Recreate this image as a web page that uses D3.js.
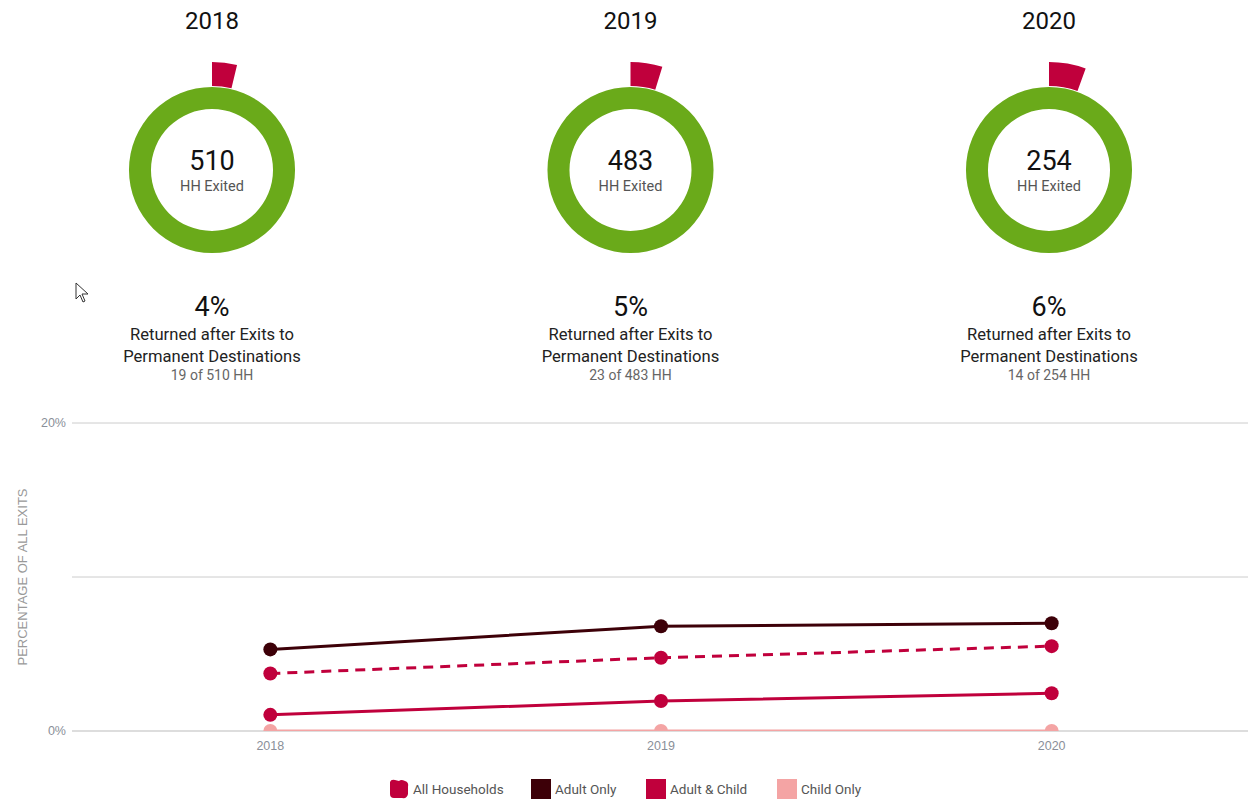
<!DOCTYPE html>
<html><head><meta charset="utf-8">
<script src="https://cdn.jsdelivr.net/npm/d3@7"></script>
<style>
body{margin:0;background:#fff;font-family:Roboto,"Noto Sans",sans-serif;}
svg{display:block;}
</style></head>
<body><svg id="c" width="1248" height="802"></svg>
<script>
const years = ["2018","2019","2020"];
const exited = [510, 483, 254];
const returned = [19, 23, 14];
const seriesNames = ["All Households","Adult Only","Adult & Child","Child Only"];
const allHouseholds = [3.73, 4.76, 5.51];
const adultOnly = [5.3, 6.8, 7.0];
const adultChild = [1.05, 1.95, 2.45];
const childOnly = [0, 0, 0];
const yTicks = [0, 10, 20];
const colors = {"All Households":"#c0003c","Adult Only":"#3d0008","Adult & Child":"#c0003c","Child Only":"#f4a4a4"};

const svg = d3.select("#c");
const F = "Roboto, 'Noto Sans', sans-serif";
const A = "'Liberation Sans', Arial, sans-serif";

// Donuts
const cx = d3.scalePoint().domain(years).range([212, 1049]);
const ring = d3.arc().innerRadius(61).outerRadius(83).startAngle(0).endAngle(2*Math.PI);
years.forEach((yr,i)=>{
  const g = svg.append("g").attr("transform",`translate(${cx(yr)},170)`);
  g.append("text").attr("y",-141).attr("text-anchor","middle").attr("font-family",F).attr("font-size",24).attr("fill","#111").text(yr);
  g.append("path").attr("d",ring()).attr("fill","#6aaa1a");
  const frac = returned[i]/exited[i];
  const a = d3.arc().innerRadius(84).outerRadius(108).startAngle(0).endAngle(frac*2*Math.PI);
  g.append("path").attr("d",a()).attr("fill","#c0003c");
  g.append("text").attr("y",0).attr("text-anchor","middle").attr("font-family",F).attr("font-size",27).attr("fill","#111").text(exited[i]);
  g.append("text").attr("y",21).attr("text-anchor","middle").attr("font-family",F).attr("font-size",14.5).attr("fill","#555").text("HH Exited");
  g.append("text").attr("y",146).attr("text-anchor","middle").attr("font-family",F).attr("font-size",27).attr("fill","#111").text(Math.round(frac*100)+"%");
  g.append("text").attr("y",170).attr("text-anchor","middle").attr("font-family",F).attr("font-size",16.6).attr("fill","#222").text("Returned after Exits to");
  g.append("text").attr("y",192).attr("text-anchor","middle").attr("font-family",F).attr("font-size",16.6).attr("fill","#222").text("Permanent Destinations");
  g.append("text").attr("y",210).attr("text-anchor","middle").attr("font-family",F).attr("font-size",14).attr("fill","#666").text(`${returned[i]} of ${exited[i]} HH`);
});

// cursor artifact
svg.append("path").attr("d","M76,283 L76,299 L80,295 L83,302 L85,301 L82,294 L88,294 Z")
  .attr("fill","#fff").attr("stroke","#333").attr("stroke-width",1);

// Line chart
const pLeft = 72, pRight = 1248, pTop = 423, pBottom = 731;
const x = d3.scalePoint().domain(years).range([75, 1247]).padding(0.5);
const y = d3.scaleLinear().domain([0,20]).range([pBottom, pTop]);

svg.append("g").selectAll("line").data(yTicks).join("line")
  .attr("x1",pLeft).attr("x2",pRight).attr("y1",d=>y(d)).attr("y2",d=>y(d))
  .attr("stroke",d=>d===0?"#bbb":"#ccc").attr("stroke-width",1);
svg.append("g").selectAll("text").data(yTicks.filter(d=>d!==10)).join("text")
  .attr("x",66).attr("y",d=>y(d)+4).attr("text-anchor","end").attr("font-family",A).attr("font-size",12.5).attr("fill","#8a8f99").text(d=>d+"%");
svg.append("text").attr("transform",`translate(27,${y(10)}) rotate(-90)`).attr("text-anchor","middle")
  .attr("font-family",A).attr("font-size",13).attr("fill","#999").text("PERCENTAGE OF ALL EXITS");
svg.append("g").selectAll("text").data(years).join("text")
  .attr("x",d=>x(d)).attr("y",750).attr("text-anchor","middle").attr("font-family",A).attr("font-size",12.5).attr("fill","#8a8f99").text(d=>d);

svg.append("defs").append("clipPath").attr("id","plot").append("rect")
  .attr("x",pLeft).attr("y",pTop-20).attr("width",pRight-pLeft).attr("height",pBottom-pTop+20);

const series = [
  {name:"Child Only", vals:childOnly, dash:null},
  {name:"Adult & Child", vals:adultChild, dash:null},
  {name:"All Households", vals:allHouseholds, dash:"10,7"},
  {name:"Adult Only", vals:adultOnly, dash:null}
];
const line = d3.line().x((d,i)=>x(years[i])).y(d=>y(d));
const pg = svg.append("g").attr("clip-path","url(#plot)");
series.forEach(s=>{
  pg.append("path").attr("d",line(s.vals)).attr("fill","none").attr("stroke",colors[s.name])
    .attr("stroke-width",3).attr("stroke-dasharray",s.dash);
  pg.selectAll(null).data(s.vals).join("circle").attr("cx",(d,i)=>x(years[i])).attr("cy",d=>y(d))
    .attr("r",7).attr("fill",colors[s.name]);
});

// Legend
const legX = [389, 531, 646, 777];
seriesNames.forEach((n,i)=>{
  const g = svg.append("g").attr("transform",`translate(${legX[i]},779)`);
  if(n==="All Households"){
    g.append("path").attr("d","M1,3 Q2,0 6,1 L10,2 Q12,0 16,2 Q20,3 19,8 L19,15 Q18,20 13,19 L5,19 Q1,19 1,15 Z").attr("fill",colors[n]);
  } else {
    g.append("rect").attr("width",20).attr("height",20).attr("fill",colors[n]);
  }
  g.append("text").attr("x",24).attr("y",15).attr("font-family",F).attr("font-size",13.5).attr("fill","#555").text(n);
});
</script></body></html>
